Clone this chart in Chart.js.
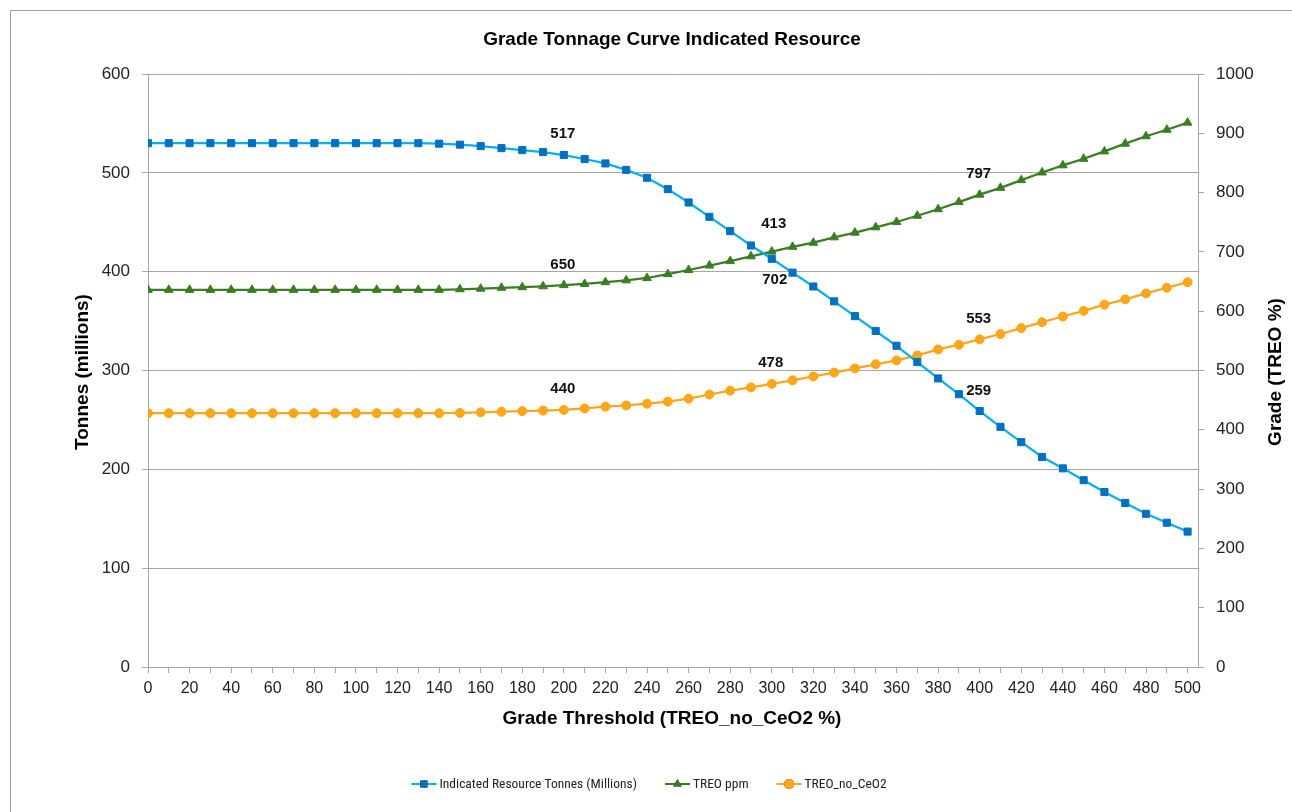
<!DOCTYPE html>
<html><head><meta charset="utf-8">
<script src="https://cdn.jsdelivr.net/npm/chart.js@4.4.1/dist/chart.umd.min.js"></script>
<style>html,body{margin:0;padding:0;background:#fff}canvas{display:block}</style>
</head><body>
<canvas id="c" width="1292" height="812"></canvas>
<script>
// ---- data ----
const thresholds = [0,10,20,30,40,50,60,70,80,90,100,110,120,130,140,150,160,170,180,190,200,210,220,230,240,250,260,270,280,290,300,310,320,330,340,350,360,370,380,390,400,410,420,430,440,450,460,470,480,490,500];
const tonnes = [530,530,530,530,530,530,530,530,530,530,530,530,530,530,529.5,528.5,527,525,523,521,518,514,509.5,503,495,483.5,470,455.5,441,426.5,413,399,385,370,355,340,325,308.5,292,276,259,243,227.5,212.5,201,189,177,166,155,146,137];
const treoPpm = [636,636,636,636,636,636,636,636,636,636,636,636,636,636,636,637,638,639.5,640.5,642,644,646,649,652,656,662.5,669.5,677,684.5,692.5,700.5,708.5,715.5,724.5,732.5,741.5,750.5,761,772,784,796.5,808,821,834,846,857,869.5,882.5,895,906,918];
const treoNoCeO2 = [428,428,428,428,428,428,428,428,428,428,428,428,428,428,428,428.5,429.5,430.5,431.5,432.5,433.5,436,439,441,444,447.5,452.5,459.5,466,471.5,477.5,483.5,490,496.5,503.5,510.5,517,525.5,535.5,543.5,552.5,561.5,571.5,581.5,591,600.5,611,620,630,639.5,649];
const seriesNames = ['Indicated Resource Tonnes (Millions)','TREO ppm','TREO_no_CeO2'];
const chartTitle = 'Grade Tonnage Curve Indicated Resource';
const xTitle = 'Grade Threshold (TREO_no_CeO2 %)';
const yLeftTitle = 'Tonnes (millions)';
const yRightTitle = 'Grade (TREO %)';
// data labels: series index, threshold, text
const labelSeries = [0,0,0,1,1,1,2,2,2];
const labelAt = [200,300,400,200,300,400,200,300,400];
const labelTexts = ['517','413','259','650','702','797','440','478','553'];

// ---- styles ----
const labelOffsets = [[-1,-21],[2,-35],[-1,-20],[-1,-20],[3,28],[-1,-21],[-1,-21],[-1,-21],[-1,-21]];
const FONT = '"Liberation Sans", Arial, sans-serif';
const GRID = '#a6a6a6';
const C_BLUE_LINE = '#00b0f0', C_BLUE_PT = '#0070c0';
const C_GREEN = '#3a7d22';
const C_ORANGE = '#fba61b';

const toXY = arr => thresholds.map((t,i)=>({x:t,y:arr[i]}));

const decor = {
  id:'decor',
  afterDraw(chart){
    const ctx = chart.ctx;
    ctx.save();
    ctx.strokeStyle = '#a0a0a0'; ctx.lineWidth = 1;
    ctx.strokeRect(10.5,10.5,1400,900);
    ctx.fillStyle = '#000';
    ctx.textAlign='center'; ctx.textBaseline='middle';
    ctx.font = 'bold 19px '+FONT;
    ctx.fillText(chartTitle, 672, 40);
    ctx.fillText(xTitle, 672, 719);
    ctx.save(); ctx.translate(83,372); ctx.rotate(-Math.PI/2); ctx.fillText(yLeftTitle,0,0); ctx.restore();
    ctx.save(); ctx.translate(1276,372); ctx.rotate(-Math.PI/2); ctx.fillText(yRightTitle,0,0); ctx.restore();
    // data labels
    ctx.font = 'bold 15px '+FONT;
    ctx.fillStyle = '#111';
    labelTexts.forEach((txt,k)=>{
      const meta = chart.getDatasetMeta(labelSeries[k]);
      const pt = meta.data[thresholds.indexOf(labelAt[k])];
      ctx.fillText(txt, pt.x+labelOffsets[k][0], pt.y+labelOffsets[k][1]);
    });
    // legend
    ctx.font = '13.5px "Liberation Sans Narrow", "Roboto Condensed", "Liberation Sans", sans-serif';
    const lineW = 25, gapT = 3, gapItem = 28;
    const widths = seriesNames.map(n=>ctx.measureText(n).width);
    let total = 0; widths.forEach((w,i)=>{ total += lineW+gapT+w + (i<2?gapItem:0); });
    let x = 649 - total/2; const y = 784;
    const styles = ['rect','triangle','circle'];
    const lc = [C_BLUE_LINE,C_GREEN,C_ORANGE], pc = [C_BLUE_PT,C_GREEN,C_ORANGE];
    seriesNames.forEach((n,i)=>{
      ctx.strokeStyle = lc[i]; ctx.lineWidth = 2;
      ctx.beginPath(); ctx.moveTo(x,y); ctx.lineTo(x+lineW,y); ctx.stroke();
      Chart.helpers.drawPoint(ctx,{pointStyle:styles[i],radius:5,borderWidth:0,rotation:0},x+lineW/2,y);
      ctx.fillStyle = pc[i]; ctx.fill();
      ctx.fillStyle = '#222'; ctx.textAlign='left';
      ctx.fillText(n, x+lineW+gapT, y+1);
      x += lineW+gapT+widths[i]+gapItem;
    });
    ctx.restore();
  }
};

new Chart(document.getElementById('c'), {
  type:'line',
  data:{
    datasets:[
      {label:seriesNames[0], data:toXY(tonnes), yAxisID:'y', borderColor:C_BLUE_LINE, borderWidth:2.25,
       pointStyle:'rect', pointRadius:5, pointBackgroundColor:C_BLUE_PT, pointBorderColor:C_BLUE_PT, pointBorderWidth:1, tension:0},
      {label:seriesNames[1], data:toXY(treoPpm), yAxisID:'y1', borderColor:C_GREEN, borderWidth:2.25,
       pointStyle:'triangle', pointRadius:5, pointBackgroundColor:C_GREEN, pointBorderColor:C_GREEN, pointBorderWidth:1, tension:0},
      {label:seriesNames[2], data:toXY(treoNoCeO2), yAxisID:'y1', borderColor:C_ORANGE, borderWidth:2.25,
       pointStyle:'circle', pointRadius:4.5, pointBackgroundColor:C_ORANGE, pointBorderColor:C_ORANGE, pointBorderWidth:1, tension:0}
    ]
  },
  options:{
    responsive:false, animation:false, devicePixelRatio:1,
    layout:{padding:{top:74,left:0,right:0,bottom:0}},
    plugins:{legend:{display:false}, title:{display:false}, tooltip:{enabled:false}},
    scales:{
      x:{type:'linear', min:0, max:505, position:'bottom',
         ticks:{stepSize:10, includeBounds:false, autoSkip:false, maxRotation:0, minRotation:0,
                callback:v=> (v%20===0 ? String(v) : ''), font:{family:FONT,size:16}, color:'#222', padding:6},
         grid:{drawOnChartArea:false, drawTicks:true, tickLength:6, color:GRID},
         border:{color:GRID, width:1},
         afterFit:s=>{s.height=145;}},
      y:{position:'left', min:0, max:600,
         ticks:{stepSize:100, callback:v=>String(v), font:{family:FONT,size:17}, color:'#222', padding:12},
         grid:{color:GRID, tickLength:6, lineWidth:1},
         border:{color:GRID, width:1},
         afterFit:s=>{s.width=148;}},
      y1:{position:'right', min:0, max:1000,
         ticks:{stepSize:100, callback:v=>String(v), font:{family:FONT,size:17}, color:'#222', padding:12},
         grid:{drawOnChartArea:false, tickLength:6, color:GRID},
         border:{color:GRID, width:1},
         afterFit:s=>{s.width=94;}}
    }
  },
  plugins:[decor]
});
</script>
</body></html>
